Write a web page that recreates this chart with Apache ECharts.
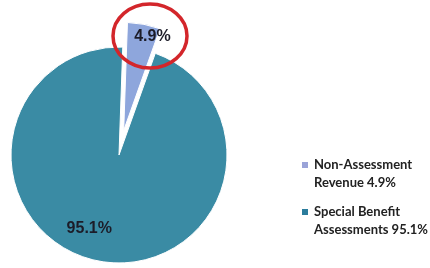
<!DOCTYPE html>
<html>
<head>
<meta charset="utf-8">
<script src="https://cdn.jsdelivr.net/npm/echarts@6/dist/echarts.min.js"></script>
<style>
html, body { margin: 0; padding: 0; background: #fff; }
#chart { width: 430px; height: 268px; }
</style>
</head>
<body>
<div id="chart"></div>
<script>
const categories = ['Non-Assessment Revenue', 'Special Benefit Assessments']
const values = [4.9, 95.1]
const legendLines = [['Non-Assessment', 'Revenue 4.9%'], ['Special Benefit', 'Assessments 95.1%']]
const colors = ['#8ea6dc', '#3a8ba4']
const legendColors = ['#9aa3d8', '#2b7c9c']

const chart = echarts.init(document.getElementById('chart'))

// nudge the inside labels to where the original has them
const labelShift = [[18, -38], [-19, 18]]

const option = {
    animation: false,
    legend: {
        orient: 'vertical',
        left: 295,
        top: 133,
        itemWidth: 8,
        itemHeight: 8,
        itemGap: -7,
        icon: 'rect',
        data: categories.map((name, i) => ({ name, itemStyle: { color: legendColors[i] } })),
        // leading blank line so the icon sits next to the first text line
        formatter: name => '\n' + legendLines[categories.indexOf(name)].join('\n'),
        textStyle: {
            fontFamily: 'Lato',
            fontWeight: 'bold',
            fontSize: 13,
            lineHeight: 18,
            color: '#222'
        }
    },
    graphic: [
        {
            type: 'ellipse',
            z: 100,
            shape: { cx: 150, cy: 36, rx: 37, ry: 32 },
            style: { fill: 'none', stroke: '#d3262b', lineWidth: 3.5 }
        }
    ],
    series: [
        {
            type: 'pie',
            center: [119, 155],
            radius: 108,
            startAngle: 88,
            clockwise: true,
            selectedMode: 'single',
            selectedOffset: 25,
            data: categories.map((name, i) => ({
                name,
                value: values[i],
                selected: i === 0,
                itemStyle: { color: colors[i] }
            })),
            itemStyle: { borderColor: '#fff', borderWidth: 1 },
            label: {
                position: 'inside',
                formatter: p => p.value + '%',
                fontFamily: 'Arial',
                fontWeight: 'bold',
                fontSize: 16,
                color: '#1c1c28'
            },
            labelLine: { show: false },
            labelLayout: p => ({ dx: labelShift[p.dataIndex][0], dy: labelShift[p.dataIndex][1] }),
            emphasis: { disabled: true }
        }
    ]
}

chart.setOption(option)
</script>
</body>
</html>
